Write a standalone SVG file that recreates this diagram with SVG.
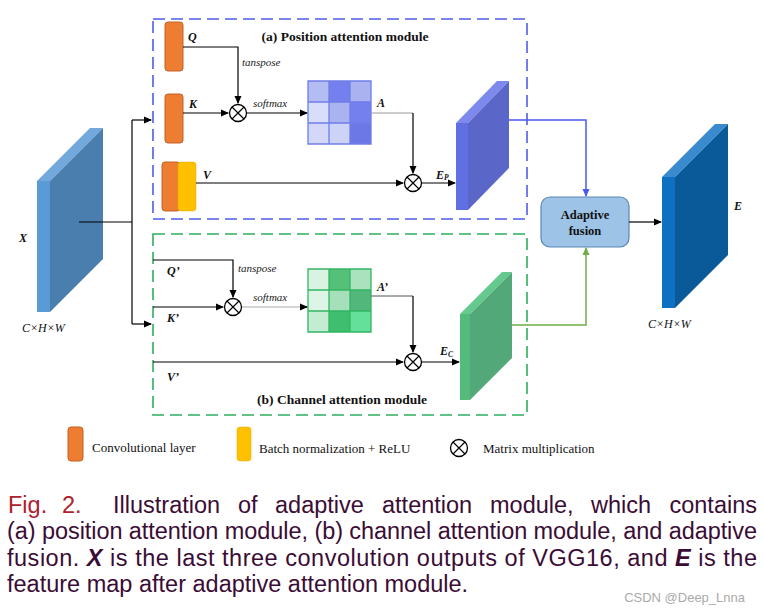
<svg xmlns="http://www.w3.org/2000/svg" width="764" height="612" viewBox="0 0 764 612">
<style>
.ser{font-family:"Liberation Serif","Times New Roman",serif;fill:#111}
.lbl{font-family:"Liberation Serif","Times New Roman",serif;font-style:italic;font-weight:bold;font-size:12px;fill:#111}
.it{font-family:"Liberation Serif","Times New Roman",serif;font-style:italic;font-size:11px;fill:#222}
.ttl{font-family:"Liberation Serif","Times New Roman",serif;font-weight:bold;font-size:13.5px;fill:#111}
.cap{font-family:"Liberation Sans",Arial,Helvetica,sans-serif;font-size:23.5px;fill:#3b0c35}
.conv{fill:#ed7d31;stroke:#c0622a;stroke-width:1}
.bn{fill:#ffc000;stroke:#e5ad00;stroke-width:0.5}
.ln{fill:none;stroke:#000;stroke-width:1.2}
</style>
<defs>
<marker id="ah" markerWidth="8" markerHeight="8" refX="7" refY="4" orient="auto" markerUnits="userSpaceOnUse">
<path d="M0,0.5 L8,4 L0,7.5 Z" fill="#000"/>
</marker>
<marker id="ahb" markerWidth="8" markerHeight="8" refX="7" refY="4" orient="auto" markerUnits="userSpaceOnUse">
<path d="M0,0.5 L8,4 L0,7.5 Z" fill="#4a5af0"/>
</marker>
<marker id="ahg" markerWidth="8" markerHeight="8" refX="7" refY="4" orient="auto" markerUnits="userSpaceOnUse">
<path d="M0,0.5 L8,4 L0,7.5 Z" fill="#70ad47"/>
</marker>
<g id="mulsym">
<circle cx="0" cy="0" r="8.5" fill="#fff" stroke="#000" stroke-width="1.3"/>
<path d="M-6,-6 L6,6 M6,-6 L-6,6" stroke="#000" stroke-width="1.2"/>
</g>
</defs>
<rect width="764" height="612" fill="#fff"/>

<!-- module boxes -->
<g id="pam-box">
<rect x="153" y="19" width="374" height="200" fill="none" stroke="#4d5de6" stroke-width="1.6" stroke-dasharray="12,6"/>
<text class="ttl" x="345" y="41" text-anchor="middle">(a) Position attention module</text>
</g>
<g id="cam-box">
<rect x="153" y="234" width="374" height="181" fill="none" stroke="#2eae5e" stroke-width="1.6" stroke-dasharray="12,6"/>
<text class="ttl" x="342" y="404" text-anchor="middle">(b) Channel attention module</text>
</g>

<!-- input X -->
<g id="X">
<polygon points="37,181 90,128 103,128 50,181" fill="#72a8dc"/>
<polygon points="50,181 103,128 103,259 50,312" fill="#4a7eae"/>
<rect x="37" y="181" width="13" height="131" fill="#5b9bd5"/>
<text class="lbl" x="19" y="242" font-size="13">X</text>
<text class="ser" x="22" y="332" font-size="12" font-style="italic">C×H×W</text>
</g>

<!-- PAM nodes -->
<g id="Q"><rect class="conv" x="165" y="22" width="18" height="49" rx="3"/><text class="lbl" x="188" y="41">Q</text></g>
<g id="K"><rect class="conv" x="165" y="94" width="18" height="49" rx="3"/><text class="lbl" x="189" y="108">K</text></g>
<g id="V"><rect class="conv" x="162" y="162" width="18" height="49" rx="3"/><rect class="bn" x="178" y="162" width="18" height="49" rx="3"/><text class="lbl" x="203" y="179">V</text></g>
<g id="mul1"><use href="#mulsym" x="238" y="113"/></g>
<g id="A">
<rect x="308" y="81" width="21" height="21" fill="#b3bcf3"/>
<rect x="329" y="81" width="21" height="21" fill="#7480ee"/>
<rect x="350" y="81" width="21" height="21" fill="#aab3f0"/>
<rect x="308" y="102" width="21" height="21" fill="#d8ddfa"/>
<rect x="329" y="102" width="21" height="21" fill="#a9b3f0"/>
<rect x="350" y="102" width="21" height="21" fill="#7480ee"/>
<rect x="308" y="123" width="21" height="21" fill="#d3d8f8"/>
<rect x="329" y="123" width="21" height="21" fill="#cdd3f6"/>
<rect x="350" y="123" width="21" height="21" fill="#6b78e6"/>
<path d="M308,81 h63 v63 h-63 Z M329,81 v63 M350,81 v63 M308,102 h63 M308,123 h63" fill="none" stroke="#6f7de9" stroke-width="1.3"/>
<text class="lbl" x="377" y="107">A</text>
</g>
<g id="mul2"><use href="#mulsym" x="413" y="183"/></g>
<g id="Ep">
<polygon points="456,123 497,81 509,81 468,123" fill="#7d89ec"/>
<polygon points="468,123 509,81 509,168 468,210" fill="#5a66c8"/>
<rect x="456" y="123" width="12" height="87" fill="#6070e2"/>
<text class="lbl" x="436" y="179">E<tspan font-size="7.5" dy="1">P</tspan></text>
</g>

<!-- CAM nodes -->
<g id="Qc"><text class="lbl" x="167" y="275">Q’</text></g>
<g id="Kc"><text class="lbl" x="167" y="322">K’</text></g>
<g id="Vc"><text class="lbl" x="167" y="381">V’</text></g>
<g id="mul3"><use href="#mulsym" x="233" y="307"/></g>
<g id="Ac">
<rect x="308" y="269" width="21" height="21" fill="#d8f3e2"/>
<rect x="329" y="269" width="21" height="21" fill="#54c07a"/>
<rect x="350" y="269" width="21" height="21" fill="#a9e2bd"/>
<rect x="308" y="290" width="21" height="21" fill="#dcf5e6"/>
<rect x="329" y="290" width="21" height="21" fill="#a6e0ba"/>
<rect x="350" y="290" width="21" height="21" fill="#52b77a"/>
<rect x="308" y="311" width="21" height="21" fill="#c4ecd2"/>
<rect x="329" y="311" width="21" height="21" fill="#3fbe70"/>
<rect x="350" y="311" width="21" height="21" fill="#64e09a"/>
<path d="M308,269 h63 v63 h-63 Z M329,269 v63 M350,269 v63 M308,290 h63 M308,311 h63" fill="none" stroke="#33b563" stroke-width="1.3"/>
<text class="lbl" x="377" y="291">A’</text>
</g>
<g id="mul4"><use href="#mulsym" x="413" y="362"/></g>
<g id="Ec">
<polygon points="460,314 502,272 512,272 470,314" fill="#63c98c"/>
<polygon points="470,314 512,272 512,358 470,400" fill="#52a879"/>
<rect x="460" y="314" width="10" height="86" fill="#55bb7d"/>
<text class="lbl" x="440" y="355">E<tspan font-size="7.5" dy="2">C</tspan></text>
</g>

<!-- fusion and output -->
<g id="fusion">
<rect x="541" y="197" width="88" height="50" rx="9" fill="#9dc3e6" stroke="#5a87b5" stroke-width="1.2"/>
<text class="ser" x="585" y="219" font-size="12.5" font-weight="bold" text-anchor="middle">Adaptive</text>
<text class="ser" x="585" y="235" font-size="12.5" font-weight="bold" text-anchor="middle">fusion</text>
</g>
<g id="E">
<polygon points="662,177 715,124 728,124 675,177" fill="#3a8ad0"/>
<polygon points="675,177 728,124 728,255 675,308" fill="#0a5a9a"/>
<rect x="662" y="177" width="13" height="131" fill="#0e70c0"/>
<text class="lbl" x="734" y="210" font-size="13">E</text>
<text class="ser" x="648" y="328" font-size="12" font-style="italic">C×H×W</text>
</g>

<!-- connectors -->
<g id="connectors">
<path class="ln" d="M79,222 H132"/>
<path class="ln" d="M132,120 V324"/>
<path class="ln" d="M132,120 H151" marker-end="url(#ah)"/>
<path class="ln" d="M132,324 H151" marker-end="url(#ah)"/>
<path class="ln" d="M183,47 H238 V103" stroke-width="1" marker-end="url(#ah)"/>
<path class="ln" d="M183,113 H228" marker-end="url(#ah)"/>
<path class="ln" d="M247,113 H307" marker-end="url(#ah)"/>
<path d="M371,113 H413" fill="none" stroke="#999" stroke-width="1.2"/>
<path class="ln" d="M413,113 V173" stroke-width="1" marker-end="url(#ah)"/>
<path class="ln" d="M196,183 H403" marker-end="url(#ah)"/>
<path class="ln" d="M422,183 H455" marker-end="url(#ah)"/>
<path class="ln" d="M153,260 H233 V297" stroke-width="1" marker-end="url(#ah)"/>
<path class="ln" d="M153,307 H223" marker-end="url(#ah)"/>
<path d="M242,307 H300" fill="none" stroke="#aaa" stroke-width="1.2"/>
<path class="ln" d="M300,307 H307" marker-end="url(#ah)"/>
<path d="M371,296 H413" fill="none" stroke="#555" stroke-width="1"/>
<path class="ln" d="M413,296 V352" stroke-width="1" marker-end="url(#ah)"/>
<path class="ln" d="M153,362 H403" marker-end="url(#ah)"/>
<path class="ln" d="M422,362 H459" marker-end="url(#ah)"/>
<path d="M509,120 H586 V196" fill="none" stroke="#4a5af0" stroke-width="1.5" marker-end="url(#ahb)"/>
<path d="M512,325 H586 V248" fill="none" stroke="#70ad47" stroke-width="1.5" marker-end="url(#ahg)"/>
<path class="ln" d="M629,222 H661" marker-end="url(#ah)"/>
<text class="it" x="242" y="66">tanspose</text>
<text class="it" x="253" y="107">softmax</text>
<text class="it" x="238" y="272">tanspose</text>
<text class="it" x="253" y="301">softmax</text>
</g>

<!-- legend -->
<g id="legend">
<rect class="conv" x="68" y="427" width="15" height="34" rx="3"/>
<text class="ser" x="92" y="452" font-size="13">Convolutional layer</text>
<rect class="bn" x="237" y="427" width="14" height="34" rx="3"/>
<text class="ser" x="259" y="453" font-size="13">Batch normalization + ReLU</text>
<use href="#mulsym" x="459" y="448"/>
<text class="ser" x="483" y="453" font-size="13">Matrix multiplication</text>
</g>

<!-- caption -->
<g id="caption">
<text class="cap" y="513"><tspan x="8" fill="#b0202c">Fig.</tspan><tspan x="62" fill="#b0202c">2.</tspan><tspan x="113">Illustration</tspan><tspan x="238">of</tspan><tspan x="275">adaptive</tspan><tspan x="382">attention</tspan><tspan x="490">module,</tspan><tspan x="591">which</tspan><tspan x="757" text-anchor="end">contains</tspan></text>
<text class="cap" x="7" y="539" textLength="750" lengthAdjust="spacing">(a) position attention module, (b) channel attention module, and adaptive</text>
<text class="cap" x="7" y="566" textLength="750" lengthAdjust="spacing">fusion. <tspan font-weight="bold" font-style="italic">X</tspan> is the last three convolution outputs of VGG16, and <tspan font-weight="bold" font-style="italic">E</tspan> is the</text>
<text class="cap" x="7" y="592">feature map after adaptive attention module.</text>
<text x="745" y="602" text-anchor="end" font-family="Liberation Sans,Arial,sans-serif" font-size="13" fill="#aaa">CSDN @Deep_Lnna</text>
</g>
</svg>
